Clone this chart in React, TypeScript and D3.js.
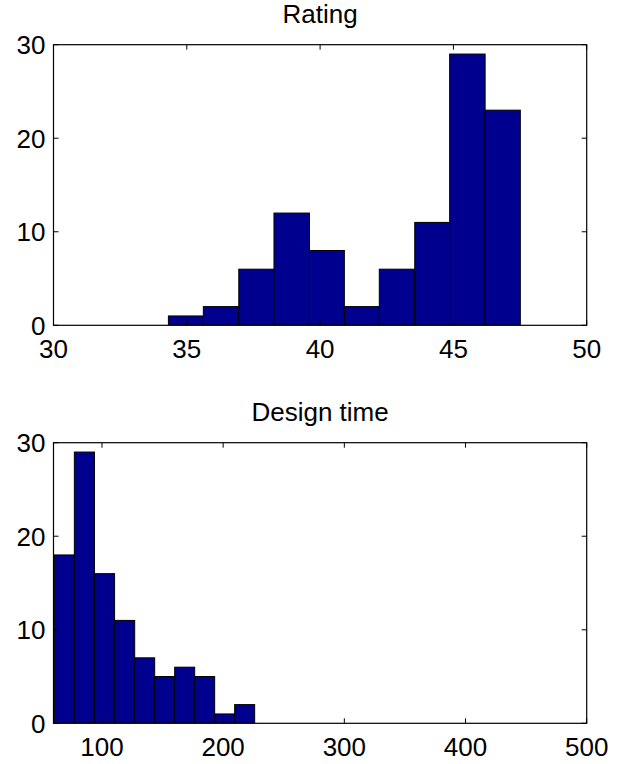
import { useRef, useEffect } from 'react';
import * as d3 from 'd3';

const W = 617;
const H = 764;
const FONT = 'Arial, "Liberation Sans", Helvetica, sans-serif';
const FS = 26;
const BAR_FILL = '#00008f';

// Rating histogram
const ratingTitle = 'Rating';
const ratingEdges = [34.31, 35.62, 36.95, 38.27, 39.6, 40.91, 42.22, 43.55, 44.86, 46.19, 47.51];
const ratingCounts = [1, 2, 6, 12, 8, 2, 6, 11, 29, 23];
const ratingXDomain = [30, 50];
const ratingXTicks = [30, 35, 40, 45, 50];

// Design time histogram
const designTitle = 'Design time';
const designEdges = [60.7, 77.2, 93.8, 110.4, 127.0, 143.5, 160.0, 176.5, 193.0, 209.5, 226.0];
const designCounts = [18, 29, 16, 11, 7, 5, 6, 5, 1, 2];
const designXDomain = [60, 500];
const designXTicks = [100, 200, 300, 400, 500];

const yDomain = [0, 30];
const yTicks = [0, 10, 20, 30];

const LEFT = 53.5;
const RIGHT = 586.7;
const TICK = 5;

type Panel = {
  title: string;
  edges: number[];
  counts: number[];
  xDomain: number[];
  xTicks: number[];
  top: number;
  bottom: number;
};

const panels: Panel[] = [
  { title: ratingTitle, edges: ratingEdges, counts: ratingCounts, xDomain: ratingXDomain, xTicks: ratingXTicks, top: 44.7, bottom: 325.3 },
  { title: designTitle, edges: designEdges, counts: designCounts, xDomain: designXDomain, xTicks: designXTicks, top: 442.7, bottom: 723.3 },
];

export default function App() {
  const svgRef = useRef<SVGSVGElement>(null);

  useEffect(() => {
    if (!svgRef.current) return;
    const svg = d3.select(svgRef.current);
    svg.selectAll('*').remove();
    svg.append('rect').attr('width', W).attr('height', H).attr('fill', '#fff');

    panels.forEach((p, pi) => {
      const x = d3.scaleLinear().domain(p.xDomain).range([LEFT, RIGHT]);
      const y = d3.scaleLinear().domain(yDomain).range([p.bottom, p.top]);
      const g = svg.append('g');

      const clipId = `clip-${pi}`;
      g.append('clipPath').attr('id', clipId)
        .append('rect')
        .attr('x', LEFT).attr('y', p.top)
        .attr('width', RIGHT - LEFT).attr('height', p.bottom - p.top);

      // bars
      g.append('g').attr('clip-path', `url(#${clipId})`)
        .selectAll('rect')
        .data(p.counts)
        .join('rect')
        .attr('x', (_, i) => x(p.edges[i]))
        .attr('y', d => y(d))
        .attr('width', (_, i) => x(p.edges[i + 1]) - x(p.edges[i]))
        .attr('height', d => y(0) - y(d))
        .attr('fill', BAR_FILL)
        .attr('stroke', '#000')
        .attr('stroke-width', 1);

      // box
      g.append('rect')
        .attr('x', LEFT).attr('y', p.top)
        .attr('width', RIGHT - LEFT).attr('height', p.bottom - p.top)
        .attr('fill', 'none').attr('stroke', '#000').attr('stroke-width', 1.2);

      // x ticks (bottom and top, inward)
      p.xTicks.forEach(t => {
        const tx = x(t);
        g.append('line').attr('x1', tx).attr('x2', tx).attr('y1', p.bottom).attr('y2', p.bottom - TICK)
          .attr('stroke', '#000');
        g.append('line').attr('x1', tx).attr('x2', tx).attr('y1', p.top).attr('y2', p.top + TICK)
          .attr('stroke', '#000');
        g.append('text')
          .attr('x', tx).attr('y', p.bottom + 32.7)
          .attr('text-anchor', 'middle')
          .attr('font-family', FONT).attr('font-size', FS)
          .attr('fill', '#000')
          .text(t);
      });

      // y ticks (left and right, inward)
      yTicks.forEach(t => {
        const ty = y(t);
        g.append('line').attr('x1', LEFT).attr('x2', LEFT + TICK).attr('y1', ty).attr('y2', ty)
          .attr('stroke', '#000');
        g.append('line').attr('x1', RIGHT).attr('x2', RIGHT - TICK).attr('y1', ty).attr('y2', ty)
          .attr('stroke', '#000');
        g.append('text')
          .attr('x', LEFT - 8).attr('y', ty + 9.3)
          .attr('text-anchor', 'end')
          .attr('font-family', FONT).attr('font-size', FS)
          .attr('fill', '#000')
          .text(t);
      });

      // title
      g.append('text')
        .attr('x', (LEFT + RIGHT) / 2).attr('y', p.top - 21.5)
        .attr('text-anchor', 'middle')
        .attr('font-family', FONT).attr('font-size', FS)
        .attr('fill', '#000')
        .text(p.title);
    });
  }, []);

  return (
    <svg
      ref={svgRef}
      width={W}
      height={H}
      style={{ position: 'absolute', left: 0, top: 0, display: 'block' }}
    />
  );
}
